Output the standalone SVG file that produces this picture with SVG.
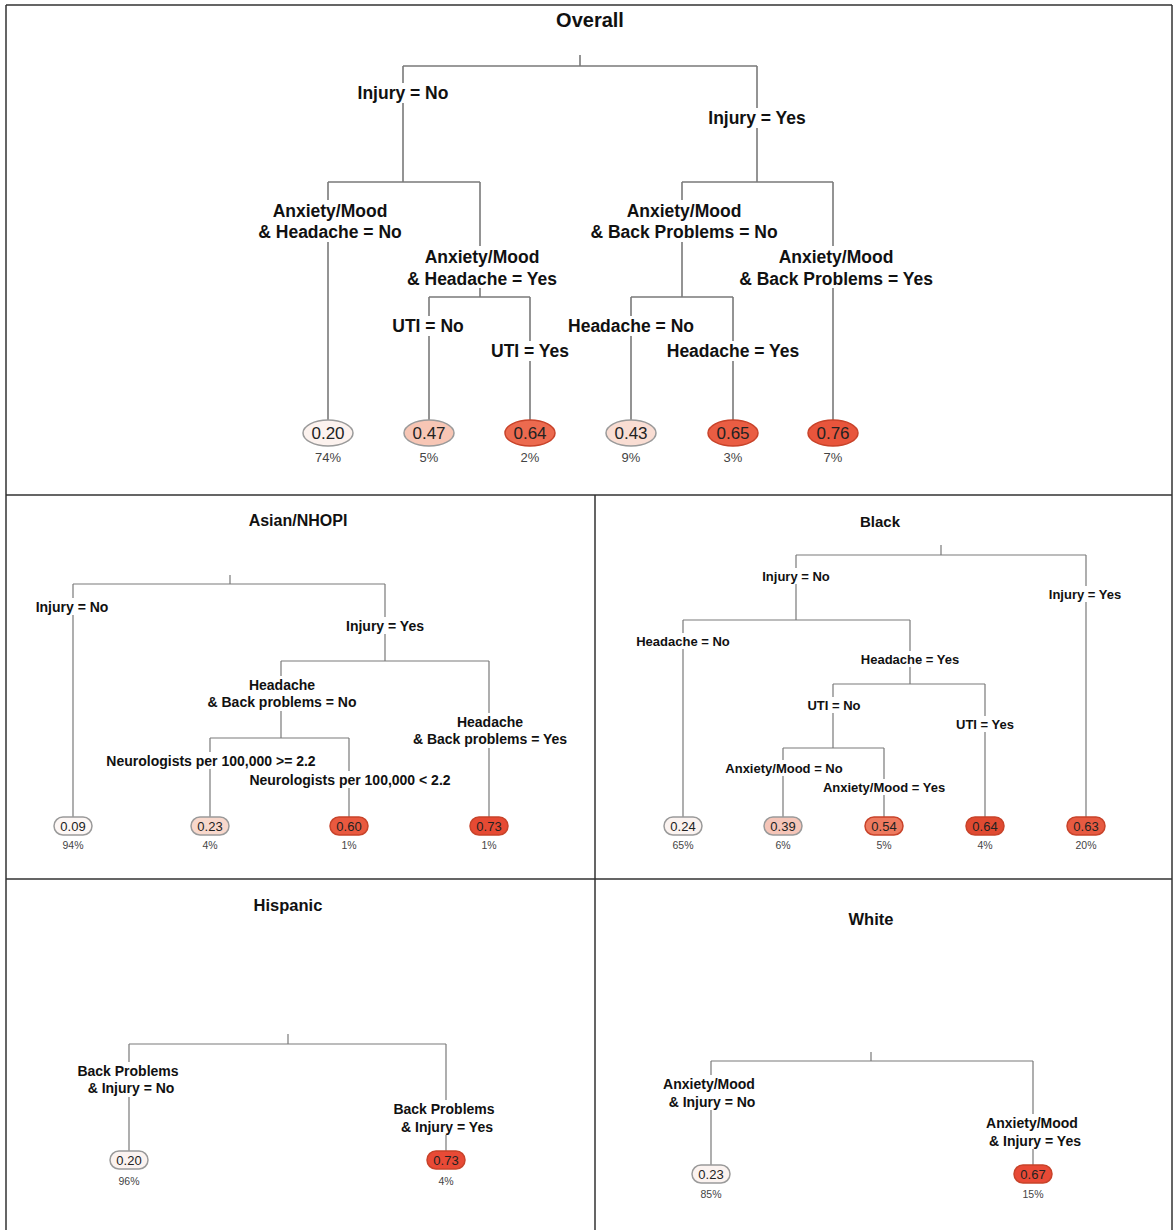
<svg xmlns="http://www.w3.org/2000/svg" width="1174" height="1230" viewBox="0 0 1174 1230">
<style>
text{font-family:"Liberation Sans",Arial,sans-serif;text-anchor:middle;fill:#111}
.t{font-weight:bold;font-size:17px}
.l0{font-weight:bold;font-size:17.5px}
.l1{font-weight:bold;font-size:14px}
.l2{font-weight:bold;font-size:13px}
.bg{fill:#fff}
.c0{fill:none;stroke:#7a7a7a;stroke-width:1.6}
.c1{fill:none;stroke:#7a7a7a;stroke-width:1.2}
.v0{font-size:17px;fill:#222}
.v1{font-size:13px;fill:#222}
.p0{font-size:13px;fill:#444}
.p1{font-size:10.5px;fill:#444}
.lo{stroke:#9a9a9a;stroke-width:1.5}
.hi{stroke:#c8432a;stroke-width:1.5}
.frame{fill:none;stroke:#333;stroke-width:1.5}
</style>
<rect width="1174" height="1230" fill="#fff"/>
<g id="frame">
<path class="frame" d="M6 5 H1172 M6 5 V1230 M1172 5 V1230 M6 495 H1172 M595 495 V1230 M6 879 H1172"/>
</g>
<g id="titles">
<text class="t" x="590" y="27" style="font-size:20px">Overall</text>
<text class="t" x="298" y="526" style="font-size:16px">Asian/NHOPI</text>
<text class="t" x="880" y="527" style="font-size:15px">Black</text>
<text class="t" x="288" y="911" style="font-size:16.5px">Hispanic</text>
<text class="t" x="871" y="925" style="font-size:16.5px">White</text>
</g>
<g id="connectors">
<path class="c0" d="M580 55 V66 M403 66 H757 M403 66 V182 M757 66 V182 M328 182 H480 M328 182 V421 M480 182 V297 M429 297 H530 M429 297 V421 M530 297 V421 M682 182 H833 M682 182 V297 M833 182 V421 M631 297 H733 M631 297 V421 M733 297 V421"/>
<path class="c1" d="M230 575 V584 M73 584 H385 M73 584 V817 M385 584 V661 M281 661 H489 M281 661 V738 M210 738 H349 M210 738 V817 M349 738 V817 M489 661 V817"/>
<path class="c1" d="M941 545 V555 M796 555 H1086 M796 555 V620 M1086 555 V817 M683 620 H910 M683 620 V817 M910 620 V684 M833 684 H985 M833 684 V748 M985 684 V817 M783 748 H884 M783 748 V817 M884 748 V817"/>
<path class="c1" d="M288 1034 V1044 M129 1044 H446 M129 1044 V1151 M446 1044 V1151"/>
<path class="c1" d="M871 1052 V1061 M711 1061 H1033 M711 1061 V1165 M1033 1061 V1165"/>
</g>
<g id="overall-nodes">
<g id="o-injury-no"><rect class="bg" x="355" y="83" width="96" height="20"/><text class="l0" x="403" y="99">Injury = No</text></g>
<g id="o-injury-yes"><rect class="bg" x="705" y="108" width="104" height="20"/><text class="l0" x="757" y="124">Injury = Yes</text></g>
<g id="o-am-head-no"><rect class="bg" x="255" y="200" width="150" height="42"/><text class="l0" x="330" y="217">Anxiety/Mood</text><text class="l0" x="330" y="238">&amp; Headache = No</text></g>
<g id="o-am-head-yes"><rect class="bg" x="403" y="246" width="158" height="42"/><text class="l0" x="482" y="263">Anxiety/Mood</text><text class="l0" x="482" y="285">&amp; Headache = Yes</text></g>
<g id="o-uti-no"><rect class="bg" x="389" y="316" width="78" height="20"/><text class="l0" x="428" y="332">UTI = No</text></g>
<g id="o-uti-yes"><rect class="bg" x="487" y="341" width="86" height="20"/><text class="l0" x="530" y="357">UTI = Yes</text></g>
<g id="o-am-back-no"><rect class="bg" x="587" y="200" width="194" height="42"/><text class="l0" x="684" y="217">Anxiety/Mood</text><text class="l0" x="684" y="238">&amp; Back Problems = No</text></g>
<g id="o-head-no"><rect class="bg" x="565" y="316" width="132" height="20"/><text class="l0" x="631" y="332">Headache = No</text></g>
<g id="o-head-yes"><rect class="bg" x="663" y="341" width="140" height="20"/><text class="l0" x="733" y="357">Headache = Yes</text></g>
<g id="o-am-back-yes"><rect class="bg" x="735" y="246" width="202" height="42"/><text class="l0" x="836" y="263">Anxiety/Mood</text><text class="l0" x="836" y="285">&amp; Back Problems = Yes</text></g>
<g id="o-leaf1"><ellipse class="lo" cx="328" cy="433" rx="25" ry="13" fill="#fcf2ee"/><text class="v0" x="328" y="439">0.20</text><text class="p0" x="328" y="462">74%</text></g>
<g id="o-leaf2"><ellipse class="lo" cx="429" cy="433" rx="25" ry="13" fill="#f7c6b5"/><text class="v0" x="429" y="439">0.47</text><text class="p0" x="429" y="462">5%</text></g>
<g id="o-leaf3"><ellipse class="hi" cx="530" cy="433" rx="25" ry="13" fill="#ec6a4f"/><text class="v0" x="530" y="439">0.64</text><text class="p0" x="530" y="462">2%</text></g>
<g id="o-leaf4"><ellipse class="lo" cx="631" cy="433" rx="25" ry="13" fill="#f9ddd3"/><text class="v0" x="631" y="439">0.43</text><text class="p0" x="631" y="462">9%</text></g>
<g id="o-leaf5"><ellipse class="hi" cx="733" cy="433" rx="25" ry="13" fill="#ea5d43"/><text class="v0" x="733" y="439">0.65</text><text class="p0" x="733" y="462">3%</text></g>
<g id="o-leaf6"><ellipse class="hi" cx="833" cy="433" rx="25" ry="13" fill="#e8553c"/><text class="v0" x="833" y="439">0.76</text><text class="p0" x="833" y="462">7%</text></g>
</g>
<g id="asian-nodes">
<g id="a-injury-no"><rect class="bg" x="33" y="598" width="78" height="17"/><text class="l1" x="72" y="612">Injury = No</text></g>
<g id="a-injury-yes"><rect class="bg" x="343" y="617" width="85" height="17"/><text class="l1" x="385" y="631">Injury = Yes</text></g>
<g id="a-hb-no"><rect class="bg" x="204" y="676" width="156" height="35"/><text class="l1" x="282" y="690">Headache</text><text class="l1" x="282" y="707">&amp; Back problems = No</text></g>
<g id="a-neuro-ge"><rect class="bg" x="104" y="752" width="214" height="17"/><text class="l1" x="211" y="766">Neurologists per 100,000 &gt;= 2.2</text></g>
<g id="a-neuro-lt"><rect class="bg" x="247" y="771" width="206" height="17"/><text class="l1" x="350" y="785">Neurologists per 100,000 &lt; 2.2</text></g>
<g id="a-hb-yes"><rect class="bg" x="409" y="713" width="162" height="35"/><text class="l1" x="490" y="727">Headache</text><text class="l1" x="490" y="744">&amp; Back problems = Yes</text></g>
<g id="a-leaf1"><rect class="lo" x="54" y="817" width="38" height="18" rx="9" fill="#fdf7f5"/><text class="v1" x="73" y="831">0.09</text><text class="p1" x="73" y="849">94%</text></g>
<g id="a-leaf2"><rect class="lo" x="191" y="817" width="38" height="18" rx="9" fill="#f8d8cc"/><text class="v1" x="210" y="831">0.23</text><text class="p1" x="210" y="849">4%</text></g>
<g id="a-leaf3"><rect class="hi" x="330" y="817" width="38" height="18" rx="9" fill="#e9593f"/><text class="v1" x="349" y="831">0.60</text><text class="p1" x="349" y="849">1%</text></g>
<g id="a-leaf4"><rect class="hi" x="470" y="817" width="38" height="18" rx="9" fill="#e64a33"/><text class="v1" x="489" y="831">0.73</text><text class="p1" x="489" y="849">1%</text></g>
</g>
<g id="black-nodes">
<g id="b-injury-no"><rect class="bg" x="760" y="568" width="72" height="16"/><text class="l2" x="796" y="581">Injury = No</text></g>
<g id="b-injury-yes"><rect class="bg" x="1046" y="586" width="79" height="16"/><text class="l2" x="1085" y="599">Injury = Yes</text></g>
<g id="b-head-no"><rect class="bg" x="633" y="633" width="100" height="16"/><text class="l2" x="683" y="646">Headache = No</text></g>
<g id="b-head-yes"><rect class="bg" x="857" y="651" width="106" height="16"/><text class="l2" x="910" y="664">Headache = Yes</text></g>
<g id="b-uti-no"><rect class="bg" x="804" y="697" width="60" height="16"/><text class="l2" x="834" y="710">UTI = No</text></g>
<g id="b-uti-yes"><rect class="bg" x="952" y="716" width="66" height="16"/><text class="l2" x="985" y="729">UTI = Yes</text></g>
<g id="b-am-no"><rect class="bg" x="722" y="760" width="124" height="16"/><text class="l2" x="784" y="773">Anxiety/Mood = No</text></g>
<g id="b-am-yes"><rect class="bg" x="820" y="779" width="128" height="16"/><text class="l2" x="884" y="792">Anxiety/Mood = Yes</text></g>
<g id="b-leaf1"><rect class="lo" x="664" y="817" width="38" height="18" rx="9" fill="#fbf3f0"/><text class="v1" x="683" y="831">0.24</text><text class="p1" x="683" y="849">65%</text></g>
<g id="b-leaf2"><rect class="lo" x="764" y="817" width="38" height="18" rx="9" fill="#f5c5b8"/><text class="v1" x="783" y="831">0.39</text><text class="p1" x="783" y="849">6%</text></g>
<g id="b-leaf3"><rect class="hi" x="865" y="817" width="38" height="18" rx="9" fill="#ee7a5f"/><text class="v1" x="884" y="831">0.54</text><text class="p1" x="884" y="849">5%</text></g>
<g id="b-leaf4"><rect class="hi" x="966" y="817" width="38" height="18" rx="9" fill="#e04a31"/><text class="v1" x="985" y="831">0.64</text><text class="p1" x="985" y="849">4%</text></g>
<g id="b-leaf5"><rect class="hi" x="1067" y="817" width="38" height="18" rx="9" fill="#e75a41"/><text class="v1" x="1086" y="831">0.63</text><text class="p1" x="1086" y="849">20%</text></g>
</g>
<g id="hispanic-nodes">
<g id="h-back-no"><rect class="bg" x="74" y="1062" width="108" height="35"/><text class="l1" x="128" y="1076">Back Problems</text><text class="l1" x="131" y="1093">&amp; Injury = No</text></g>
<g id="h-back-yes"><rect class="bg" x="390" y="1100" width="108" height="35"/><text class="l1" x="444" y="1114">Back Problems</text><text class="l1" x="447" y="1132">&amp; Injury = Yes</text></g>
<g id="h-leaf1"><rect class="lo" x="110" y="1151" width="38" height="18" rx="9" fill="#fbf3f0"/><text class="v1" x="129" y="1165">0.20</text><text class="p1" x="129" y="1185">96%</text></g>
<g id="h-leaf2"><rect class="hi" x="427" y="1151" width="38" height="18" rx="9" fill="#e84a36"/><text class="v1" x="446" y="1165">0.73</text><text class="p1" x="446" y="1185">4%</text></g>
</g>
<g id="white-nodes">
<g id="w-am-no"><rect class="bg" x="659" y="1075" width="100" height="35"/><text class="l1" x="709" y="1089">Anxiety/Mood</text><text class="l1" x="712" y="1107">&amp; Injury = No</text></g>
<g id="w-am-yes"><rect class="bg" x="982" y="1114" width="100" height="35"/><text class="l1" x="1032" y="1128">Anxiety/Mood</text><text class="l1" x="1035" y="1146">&amp; Injury = Yes</text></g>
<g id="w-leaf1"><rect class="lo" x="692" y="1165" width="38" height="18" rx="9" fill="#fbf3f0"/><text class="v1" x="711" y="1179">0.23</text><text class="p1" x="711" y="1198">85%</text></g>
<g id="w-leaf2"><rect class="hi" x="1014" y="1165" width="38" height="18" rx="9" fill="#e84a36"/><text class="v1" x="1033" y="1179">0.67</text><text class="p1" x="1033" y="1198">15%</text></g>
</g>
</svg>
